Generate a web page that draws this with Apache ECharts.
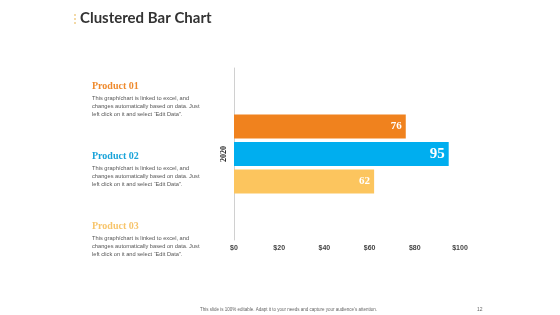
<!DOCTYPE html>
<html>
<head>
<meta charset="utf-8">
<script src="https://cdn.jsdelivr.net/npm/echarts@6/dist/echarts.min.js"></script>
<style>
  html, body { margin: 0; padding: 0; background: #fff; }
  #chart { width: 560px; height: 315px; }
</style>
</head>
<body>
<div id="chart"></div>
<script>
// chart data
const categories = ['2020']
const seriesNames = ['Product 01', 'Product 02', 'Product 03']
const product01 = [76]
const product02 = [95]
const product03 = [62]
const xTicks = ['$0', '$20', '$40', '$60', '$80', '$100']

const colors = ['#F0821E', '#00AEEF', '#FCC55E']
const titleColors = ['#EE8A2E', '#1AA3D9', '#F7C56C']
const desc = [
  'This graph/chart is linked to excel, and',
  'changes automatically based on data. Just',
  'left click on it and select \u201cEdit Data\u201d.'
]

const chart = echarts.init(document.getElementById('chart'))

const sideText = []
seriesNames.forEach((name, i) => {
  const top = 81 + i * 70
  sideText.push({
    type: 'text', left: 92, top: top,
    style: { text: name, fill: titleColors[i], font: 'bold 10px "Liberation Serif", serif' }
  })
  sideText.push({
    type: 'text', left: 92, top: top + 13,
    style: { text: desc.join('\n'), fill: '#555', font: '5.7px "Liberation Sans", Arial, sans-serif', lineHeight: 8 }
  })
})

const labelSizes = [11, 15, 11]

chart.setOption({
  animation: false,
  grid: { left: 234, right: 100, top: 68, bottom: 75 },
  graphic: [
    { type: 'rect', left: 74, top: 14, shape: { width: 2, height: 2 }, style: { fill: '#F3D9A6' } },
    { type: 'rect', left: 74, top: 18, shape: { width: 2, height: 2 }, style: { fill: '#F3D9A6' } },
    { type: 'rect', left: 74, top: 22, shape: { width: 2, height: 2 }, style: { fill: '#F3D9A6' } },
    {
      type: 'text', left: 80, top: 11,
      style: { text: 'Clustered Bar Chart', fill: '#333', font: 'bold 15px Lato, "DejaVu Sans", sans-serif' }
    },
    {
      type: 'text', left: 200, top: 307,
      style: { text: 'This slide is 100% editable. Adapt it to your needs and capture your audience\u2019s attention.', fill: '#666', font: '4.5px "Liberation Sans", Arial, sans-serif' }
    },
    {
      type: 'text', left: 477, top: 307,
      style: { text: '12', fill: '#666', font: '5px "Liberation Sans", Arial, sans-serif' }
    }
  ].concat(sideText),
  xAxis: {
    type: 'value',
    min: 0, max: 100, interval: 20,
    axisLine: { show: false },
    axisTick: { show: false },
    splitLine: { show: false },
    axisLabel: {
      margin: 5,
      color: '#444',
      fontSize: 7,
      fontWeight: 'bold',
      fontFamily: '"Liberation Sans", Arial, sans-serif',
      formatter: (v) => xTicks[v / 20]
    }
  },
  yAxis: {
    type: 'category',
    data: categories,
    inverse: true,
    axisLine: { show: true, lineStyle: { color: '#D0D0D0', width: 1 } },
    axisTick: { show: false },
    axisLabel: {
      rotate: 90,
      margin: 6,
      color: '#222',
      fontSize: 8,
      fontWeight: 'bold',
      fontFamily: '"Liberation Serif", serif'
    }
  },
  series: [product01, product02, product03].map((d, i) => ({
    name: seriesNames[i],
    type: 'bar',
    data: d,
    barWidth: 24,
    barGap: '15%',
    itemStyle: { color: colors[i] },
    label: {
      show: true,
      position: 'insideRight',
      distance: 4,
      color: '#fff',
      fontSize: labelSizes[i],
      fontWeight: 'bold',
      fontFamily: '"Liberation Serif", serif'
    }
  }))
})
</script>
</body>
</html>
